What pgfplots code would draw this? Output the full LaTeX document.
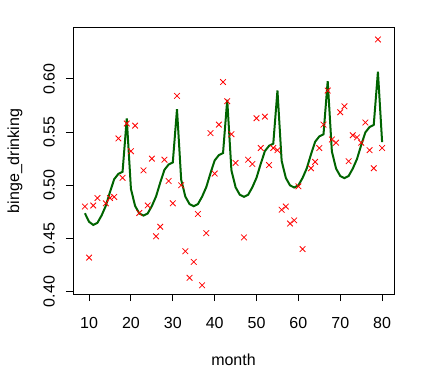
\documentclass[border=0pt]{standalone}
\usepackage{pgfplots}
\pgfplotsset{compat=1.18}
\usepackage{fontspec}
\setmainfont{Liberation Sans}
\definecolor{rgreen}{HTML}{006400}
\begin{document}
\begin{tikzpicture}
\begin{axis}[
  at={(0,0)}, anchor=south west,
  scale only axis, width=321bp, height=266bp,
  xmin=6.16, xmax=82.84, ymin=0.3978, ymax=0.6478,
  axis line style={line width=1bp},
  xtick={10,20,...,80},
  ytick={0.40,0.45,0.50,0.55,0.60},
  xtick pos=bottom, ytick pos=left,
  tick align=outside, major tick length=7bp,
  tick style={line width=1bp, black},
  /pgf/number format/assume math mode=true,
  yticklabel={\pgfmathprintnumber[fixed,fixed zerofill,precision=2]{\tick}},
  ticklabel style={font=\fontsize{16bp}{19bp}\selectfont},
  yticklabel style={rotate=90, anchor=center, yshift=17bp},
  xticklabel style={anchor=center, yshift=-22bp},
  label style={font=\fontsize{16bp}{19bp}\selectfont},
  xlabel={month}, ylabel={binge\_drinking},
  xlabel style={at={(axis description cs:0.5,0)}, anchor=center, yshift=-66bp},
  ylabel style={at={(axis description cs:0,0.5)}, anchor=center, rotate=0, yshift=58bp},
  clip=false,
]
\addplot[only marks, mark=x, mark size=4bp, red, mark options={line width=0.8bp}] coordinates {
(9,0.480) (10,0.432) (11,0.481) (12,0.488) (14,0.483) (15,0.488) (16,0.489)
(17,0.544) (18,0.507) (19,0.558) (20,0.532) (21,0.556) (22,0.474) (23,0.514)
(24,0.481) (25,0.525) (26,0.452) (27,0.461) (28,0.524) (29,0.504) (30,0.483)
(31,0.584) (32,0.500) (33,0.438) (34,0.413) (35,0.428) (36,0.473) (37,0.406)
(38,0.455) (39,0.549) (40,0.511) (41,0.557) (42,0.597) (43,0.579) (44,0.548)
(45,0.521) (47,0.451) (48,0.524) (49,0.520) (50,0.563) (51,0.535) (52,0.5645)
(53,0.519) (54,0.535) (55,0.533) (56,0.477) (57,0.480) (58,0.464) (59,0.467)
(60,0.499) (61,0.440) (63,0.516) (64,0.522) (65,0.535) (66,0.557) (67,0.589)
(68,0.543) (69,0.540) (70,0.5686) (71,0.5742) (72,0.5226) (73,0.547) (74,0.545)
(75,0.540) (76,0.559) (77,0.533) (78,0.516) (79,0.637) (80,0.535)
};
\addplot[rgreen, line width=2bp] coordinates {
(9,0.4737) (10,0.4657) (11,0.4627) (12,0.4647) (13,0.4717) (14,0.4807) (15,0.4937)
(16,0.5057) (17,0.5107) (18,0.5127) (19,0.5627) (20,0.4965) (21,0.4805) (22,0.4735)
(23,0.4715) (24,0.4735) (25,0.4805) (26,0.4895) (27,0.5025) (28,0.5145) (29,0.5195)
(30,0.5215) (31,0.5715) (32,0.5053) (33,0.4893) (34,0.4823) (35,0.4803) (36,0.4823)
(37,0.4893) (38,0.4983) (39,0.5113) (40,0.5233) (41,0.5283) (42,0.5303) (43,0.5803)
(44,0.5141) (45,0.4981) (46,0.4911) (47,0.4891) (48,0.4911) (49,0.4981) (50,0.5071)
(51,0.5201) (52,0.5321) (53,0.5371) (54,0.5391) (55,0.5891) (56,0.5229) (57,0.5069)
(58,0.4999) (59,0.4979) (60,0.4999) (61,0.5069) (62,0.5159) (63,0.5289) (64,0.5409)
(65,0.5459) (66,0.5479) (67,0.5979) (68,0.5317) (69,0.5157) (70,0.5087) (71,0.5067)
(72,0.5087) (73,0.5157) (74,0.5247) (75,0.5377) (76,0.5497) (77,0.5547) (78,0.5567)
(79,0.6067) (80,0.5405)
};
\end{axis}
\pgfresetboundingbox
\path[use as bounding box] (-73bp,-90bp) rectangle (350bp,294bp);
\end{tikzpicture}
\end{document}
